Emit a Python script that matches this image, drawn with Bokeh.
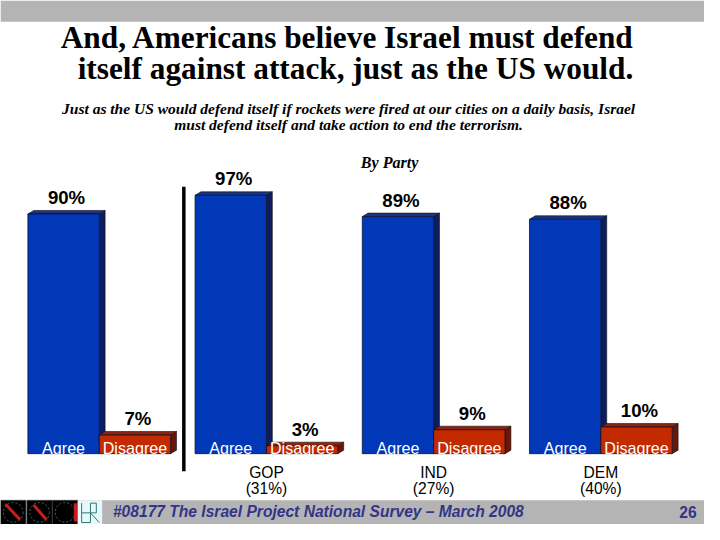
from bokeh.plotting import figure
from bokeh.models import Range1d
from bokeh.embed import file_html
from bokeh.resources import INLINE
from bokeh.core.properties import value

# ---- data ----
groups = ["Total", "GOP", "IND", "DEM"]
group_names = ["", "GOP", "IND", "DEM"]
group_shares = ["", "(31%)", "(27%)", "(40%)"]
agree = [90, 97, 89, 88]
disagree = [7, 3, 9, 10]
bar_names = ["Agree", "Disagree"]
title_lines = ["And, Americans believe Israel must defend",
               "itself against attack, just as the US would."]
subtitle_lines = ["Just as the US would defend itself if rockets were fired at our cities on a daily basis, Israel",
                  "must defend itself and take action to end the terrorism."]
section_label = "By Party"
footer_text = "#08177 The Israel Project National Survey \u2013 March 2008"
page_number = "26"

# ---- layout (reference pixel space horizontally, percent vertically) ----
W, H = 704, 524
SX = W / 720.0
PX = 2.745          # reference px per percentage point
BASE = 467          # baseline row in reference px


def Y(row):
    return (BASE - row) / PX


def fs(px):
    return "%.1fpx" % (px * SX)


p = figure(width=W, height=H, x_range=Range1d(0, 720), y_range=Range1d(Y(540), Y(0)),
           output_backend="svg", toolbar_location=None, x_axis_type=None, y_axis_type=None,
           min_border=0, outline_line_color=None)
p.grid.visible = False
p.background_fill_color = "white"
p.border_fill_color = "white"

# gray bands
p.quad(left=0, right=720, top=Y(0), bottom=Y(22), fill_color="#b4b4b4", line_color=None)
p.quad(left=0, right=720, top=Y(515), bottom=Y(540), fill_color="#b4b4b4", line_color=None)

# bars
GSTEP, GLEFT, BW = 171, 28, 73
DX, DY = 6, 3.6 / PX
a_left = [GLEFT + GSTEP * i for i in range(len(groups))]
a_right = [l + BW for l in a_left]
d_left = a_right
d_right = [l + BW for l in d_left]

blue_face, blue_side, blue_top = "#0038b8", "#0c1e5e", "#1a3384"
red_face, red_side, red_top = "#c42a00", "#6a1608", "#8e2410"


def bar3d(lefts, rights, vals, face, side, top):
    p.patches(xs=[[r, r + DX, r + DX, r] for r, v in zip(rights, vals)],
              ys=[[0, DY, v + DY, v] for v in vals],
              fill_color=side, line_color="#101010", line_width=0.6)
    p.patches(xs=[[l, l + DX, r + DX, r] for l, r in zip(lefts, rights)],
              ys=[[v, v + DY, v + DY, v] for v in vals],
              fill_color=top, line_color="#101010", line_width=0.6)
    p.quad(left=lefts, right=rights, bottom=0, top=vals,
           fill_color=face, line_color="#101030", line_width=0.8)


bar3d(a_left, a_right, agree, blue_face, blue_side, blue_top)
bar3d(d_left, d_right, disagree, red_face, red_side, red_top)

# value labels
lab_font = value("Liberation Sans")
p.text(x=[(l + r) / 2 + 3 for l, r in zip(a_left, a_right)], y=[v + 17 / PX for v in agree],
       text=["%d%%" % v for v in agree], text_font=lab_font, text_font_style="bold",
       text_font_size=fs(19), text_align="center", text_baseline="middle", text_color="black")
p.text(x=[(l + r) / 2 + 3 for l, r in zip(d_left, d_right)], y=[v + 17 / PX for v in disagree],
       text=["%d%%" % v for v in disagree], text_font=lab_font, text_font_style="bold",
       text_font_size=fs(19), text_align="center", text_baseline="middle", text_color="black")

# Agree / Disagree inside bars
p.text(x=[(l + r) / 2 for l, r in zip(a_left, a_right)], y=[Y(461)] * len(groups),
       text=[bar_names[0]] * len(groups), text_font=lab_font, text_font_size=fs(16.5),
       text_align="center", text_baseline="middle", text_color="white")
p.text(x=[(l + r) / 2 for l, r in zip(d_left, d_right)], y=[Y(461)] * len(groups),
       text=[bar_names[1]] * len(groups), text_font=lab_font, text_font_size=fs(16.5),
       text_align="center", text_baseline="middle", text_color="white")

# group labels
p.text(x=a_right, y=[Y(486)] * len(groups), text=group_names, text_font=lab_font,
       text_font_size=fs(16), text_align="center", text_baseline="middle", text_color="black")
p.text(x=a_right, y=[Y(503)] * len(groups), text=group_shares, text_font=lab_font,
       text_font_size=fs(16), text_align="center", text_baseline="middle", text_color="black")

# separator line
sep_x = (d_right[0] + a_left[1]) / 2 + 1
p.segment(x0=[sep_x], y0=[Y(192)], x1=[sep_x], y1=[Y(485)], line_color="black", line_width=3.5)

# titles
serif = value("Liberation Serif")
p.text(x=[355, 363], y=[Y(38), Y(70)], text=title_lines, text_font=serif, text_font_style="bold",
       text_font_size=fs(32), text_align="center", text_baseline="middle", text_color="black")
p.text(x=[356, 356], y=[Y(111), Y(128)], text=subtitle_lines, text_font=serif,
       text_font_style="bold italic", text_font_size=fs(15.9), text_align="center",
       text_baseline="middle", text_color="black")
p.text(x=[398], y=[Y(167)], text=[section_label], text_font=serif, text_font_style="bold italic",
       text_font_size=fs(16.5), text_align="center", text_baseline="middle", text_color="black")

# footer
p.text(x=[115], y=[Y(527)], text=[footer_text], text_font=lab_font, text_font_style="bold italic",
       text_font_size=fs(16), text_align="left", text_baseline="middle", text_color="#343488")
p.text(x=[712], y=[Y(527)], text=[page_number], text_font=lab_font, text_font_style="bold",
       text_font_size=fs(16), text_align="right", text_baseline="middle", text_color="#343488")

# logos (decorative)
logo_l = [0, 27, 53]
p.quad(left=logo_l, right=[l + 26 for l in logo_l], top=Y(515), bottom=Y(540),
       fill_color="black", line_color="#555555", line_width=0.5)
p.scatter(x=[l + 13 for l in logo_l], y=[Y(527.5)] * 3, size=20 * SX, marker="circle",
          fill_color=None, line_color="#3a6e6e", line_width=1, line_dash="2 2")
p.segment(x0=[5, 34], y0=[Y(519), Y(520)], x1=[20, 47], y1=[Y(535), Y(535)],
          line_color="#c41e1e", line_width=3)
p.quad(left=[75], right=[79], top=[Y(518)], bottom=[Y(537)], fill_color="#c41e1e", line_color=None)
p.quad(left=[79], right=[104], top=Y(515), bottom=Y(540), fill_color="#e8f8f8", line_color=None)
p.multi_line(xs=[[83, 83, 92], [92, 92], [92, 98, 98, 92], [92, 101], [83, 92]],
             ys=[[Y(518), Y(538), Y(538)], [Y(518), Y(538)], [Y(518), Y(518), Y(528), Y(528)],
                 [Y(528), Y(538)], [Y(528), Y(528)]],
             line_color="#2a7a7a", line_width=1)

open("out.html", "w").write(file_html(p, INLINE))
